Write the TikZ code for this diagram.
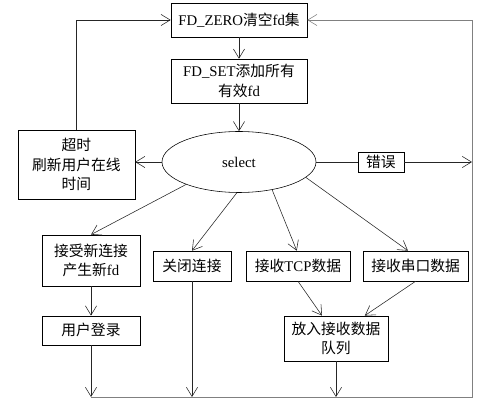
\documentclass[tikz,border=0pt]{standalone}
\usepackage{fontspec}
\setmainfont{Liberation Serif}
\newfontfamily\cjk{Noto Sans CJK SC}
\newcommand{\zh}[1]{{\cjk #1}}
\usetikzlibrary{shapes.geometric,arrows.meta,positioning,calc}

\begin{document}
\begin{tikzpicture}[
    box/.style={rectangle, draw=black, fill=white, inner sep=1pt, align=center,
                font=\fontsize{10.5}{14}\selectfont},
    sel/.style={ellipse, draw=black, fill=white, minimum width=3.85cm, minimum height=1.525cm,
                font=\fontsize{10.5}{14}\selectfont},
    arrow/.style={-{Straight Barb[length=2.3mm,width=2.8mm]}, draw=black!85},
    back/.style={arrow, draw=black!50}
]
\useasboundingbox (0, 0) rectangle (12.6, 10.1);

% Top of the loop
\node[box, minimum width=3.4cm, minimum height=0.85cm] (zero) at (5.975, 9.6) {FD\_ZERO\zh{清空}fd\zh{集}};
\node[box, minimum width=3.4cm, minimum height=1.1cm] (set) at (5.975, 8.075) {FD\_SET\zh{添加所有}\\\zh{有效}fd};
\node[sel] (select) at (5.975, 6.05) {select};

% Timeout and error
\node[box, minimum width=2.925cm, minimum height=1.725cm] (timeout) at (1.91, 5.99) {\zh{超时}\\\zh{刷新用户在线}\\\zh{时间}};
\node[box, minimum width=1.15cm, minimum height=0.5cm] (err) at (9.525, 6.05) {\zh{错误}};

% Events
\node[box, minimum width=2.45cm, minimum height=1.275cm] (accept) at (2.275, 3.59) {\zh{接受新连接}\\\zh{产生新}fd};
\node[box, minimum width=1.95cm, minimum height=0.75cm] (close) at (4.8, 3.45) {\zh{关闭连接}};
\node[box, minimum width=2.6cm, minimum height=0.75cm] (tcp) at (7.45, 3.45) {\zh{接收}TCP\zh{数据}};
\node[box, minimum width=2.625cm, minimum height=0.75cm] (serial) at (10.39, 3.45) {\zh{接收串口数据}};
\node[box, minimum width=2.45cm, minimum height=0.725cm] (login) at (2.275, 1.84) {\zh{用户登录}};
\node[box, minimum width=2.6cm, minimum height=1.125cm] (queue) at (8.4, 1.64) {\zh{放入接收数据}\\\zh{队列}};

% Return path corner
\coordinate (corner) at (11.8, 0.175);

% Main flow
\draw[arrow] (zero.south) -- (set.north);
\draw[arrow] (set.south) -- (select.north);
\draw[arrow] (select.west) -- (select.west -| timeout.east);
\draw[arrow] (timeout.north) |- (zero.west);
\draw[draw=black!85] (select.east) -- (err.west);
\draw[arrow] (err.east) -- (err.east -| corner);

% select results
\draw[arrow] (select.203) -- (accept.north);
\draw[arrow] (select.266) -- (close.north);
\draw[arrow] (select.320) -- ([xshift=-0.03cm]tcp.north);
\draw[arrow] (select.347) -- ([xshift=-0.19cm]serial.north);
\draw[arrow] (accept.south) -- (login.north);
\draw[arrow] (tcp.south) -- ([xshift=-0.35cm]queue.north);
\draw[arrow] (serial.south) -- ([xshift=0.72cm]queue.north);

% Back to FD_ZERO
\draw[arrow] (login.south) -- (login.south |- corner);
\draw[arrow] (close.south) -- (close.south |- corner);
\draw[arrow] (queue.south) -- (queue.south |- corner);
\draw[back] (login.south |- corner) -- (corner) |- (zero.east);

\end{tikzpicture}
\end{document}
